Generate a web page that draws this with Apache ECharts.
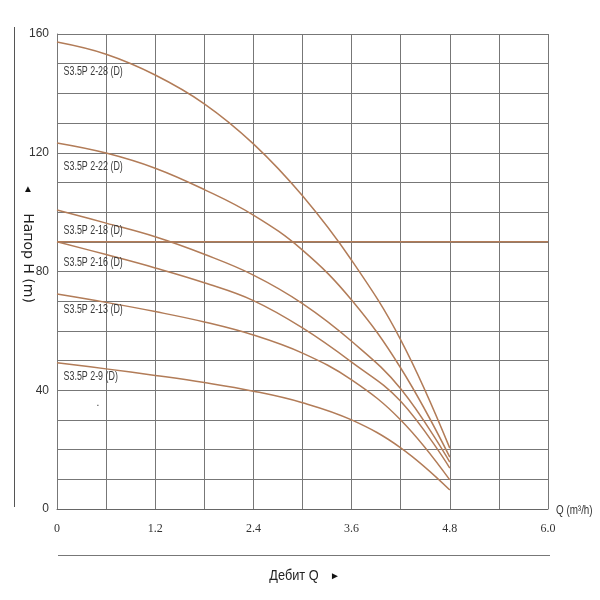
<!DOCTYPE html>
<html><head><meta charset="utf-8">
<script src="https://cdn.jsdelivr.net/npm/echarts@6/dist/echarts.min.js"></script>
<style>html,body{margin:0;padding:0;background:#fff}#c{width:600px;height:600px}</style>
</head><body><div id="c"></div>
<script>
const flowQ = [0, 0.6, 1.2, 1.8, 2.4, 3.0, 3.6, 4.2, 4.8];
const seriesNames = ['S3.5P 2-28 (D)', 'S3.5P 2-22 (D)', 'S3.5P 2-18 (D)', 'S3.5P 2-16 (D)', 'S3.5P 2-13 (D)', 'S3.5P 2-9 (D)'];
const head_2_28 = [157.3, 153.2, 146.2, 136.5, 123, 105.5, 83.8, 57, 20.5];
const head_2_22 = [123.3, 119.9, 114.8, 107.6, 99, 87.2, 70.4, 47.5, 17.5];
const head_2_18 = [100.7, 96.3, 91.7, 85.8, 78.8, 69.2, 56.5, 40.5, 15.8];
const head_2_16 = [90, 85.7, 81.2, 76.2, 70.2, 61, 49.5, 36.3, 13.8];
const head_2_13 = [72.4, 69.6, 66.5, 63, 58.6, 52.5, 43.5, 30, 9.8];
const head_2_9 = [49.3, 47.2, 45, 42.6, 39.7, 35.8, 30, 20.6, 6.4];
const labelQ = 0.08;
const labelH = [147.2, 115.2, 93.9, 82.9, 67, 44.5];
const refLineH = 90;
const xTicks = [0, 1.2, 2.4, 3.6, 4.8, 6.0];
const yTicks = [0, 40, 80, 120, 160];

const heads = [head_2_28, head_2_22, head_2_18, head_2_16, head_2_13, head_2_9];
const curveColor = '#b27c58';
const chart = echarts.init(document.getElementById('c'));
const series = heads.map((h, i) => ({
  type: 'line', name: seriesNames[i], smooth: 0.4, symbol: 'none',
  lineStyle: {color: curveColor, width: 1.5},
  data: flowQ.map((q, j) => [q, h[j]]), z: 3
}));
series.push({
  type: 'line', symbol: 'none', lineStyle: {color: curveColor, width: 1.5},
  data: [[0, refLineH], [6, refLineH]], z: 3
});
const narrow = '"Liberation Sans", Arial, sans-serif';
chart.setOption({
  animation: false,
  grid: {left: 57, right: 52, top: 34, bottom: 91},
  xAxis: {
    type: 'value', min: 0, max: 6, interval: 0.6,
    axisLine: {show: true, lineStyle: {color: '#666'}},
    axisTick: {show: false},
    splitLine: {show: true, lineStyle: {color: '#777', width: 1}},
    axisLabel: {margin: 14, fontFamily: '"Liberation Serif", "DejaVu Serif", serif', fontSize: 12, color: '#333',
      formatter: v => { const m = xTicks.find(t => Math.abs(t - v) < 1e-6); return m === undefined ? '' : (m === 0 ? '0' : m.toFixed(1)); }}
  },
  yAxis: {
    type: 'value', min: 0, max: 160, interval: 10,
    axisLine: {show: true, lineStyle: {color: '#777'}},
    axisTick: {show: false},
    splitLine: {show: true, lineStyle: {color: '#777', width: 1}},
    axisLabel: {margin: 8, fontFamily: narrow, fontSize: 12, color: '#333',
      formatter: v => yTicks.indexOf(v) >= 0 ? String(v) : ''}
  },
  series: series
});
const graphics = [
  {type: 'line', shape: {x1: 14.5, y1: 27, x2: 14.5, y2: 507}, style: {stroke: '#555', lineWidth: 1}},
  {type: 'line', shape: {x1: 58, y1: 555.5, x2: 550, y2: 555.5}, style: {stroke: '#777', lineWidth: 1.2}},
  {type: 'text', x: 28, y: 189, style: {text: '▲', fontSize: 10, fill: '#111', align: 'center', verticalAlign: 'middle'}},
  {type: 'text', x: 28, y: 258, rotation: -Math.PI / 2,
    style: {text: 'Напор H (m)', fontFamily: '"DejaVu Sans", sans-serif', fontSize: 14, fill: '#222', align: 'center', verticalAlign: 'middle'}},
  {type: 'text', x: 294, y: 576, scaleX: 0.85, style: {text: 'Дебит Q', fontFamily: narrow, fontSize: 15, fill: '#222', align: 'center', verticalAlign: 'middle'}},
  {type: 'text', x: 335, y: 576, style: {text: '►', fontSize: 10, fill: '#111', align: 'center', verticalAlign: 'middle'}},
  {type: 'text', x: 556, y: 511, scaleX: 0.82, style: {text: 'Q (m³/h)', fontFamily: narrow, fontSize: 12, fill: '#333', align: 'left', verticalAlign: 'middle'}},
  {type: 'text', x: 98, y: 403, style: {text: '.', fontSize: 10, fill: '#333', align: 'center', verticalAlign: 'middle'}}
];
seriesNames.forEach((n, i) => {
  const p = chart.convertToPixel({gridIndex: 0}, [labelQ, labelH[i]]);
  graphics.push({type: 'text', x: p[0], y: p[1], scaleX: 0.74, z: 10,
    style: {text: n, fontFamily: narrow, fontSize: 12, fill: '#3a3a3a', align: 'left', verticalAlign: 'middle'}});
});
chart.setOption({graphic: graphics});
</script></body></html>
